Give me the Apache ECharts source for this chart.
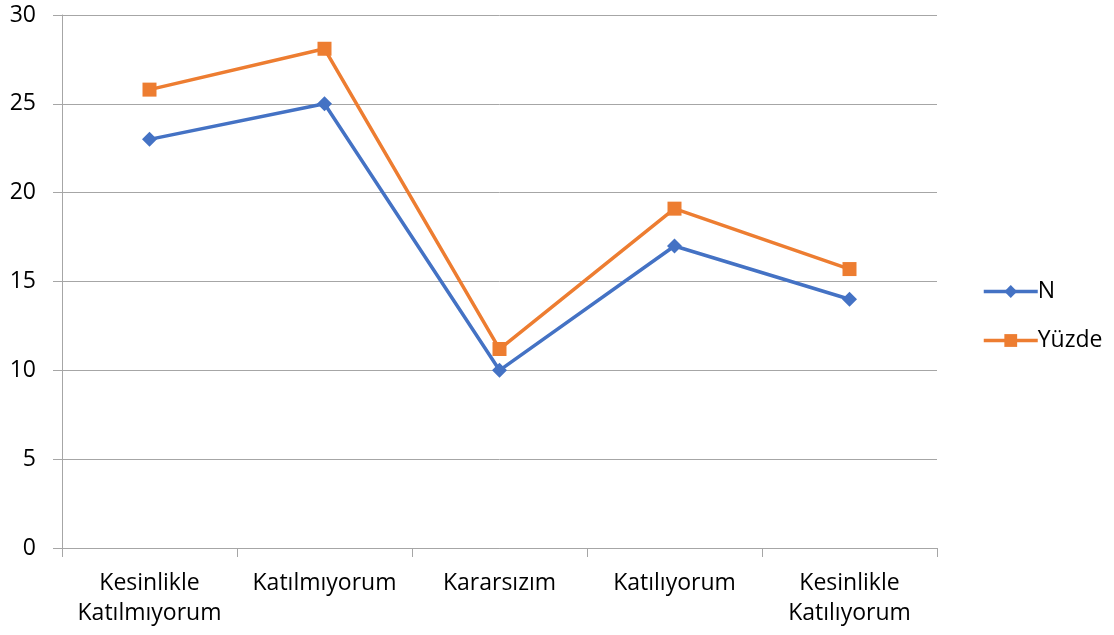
<!DOCTYPE html>
<html><head><meta charset="utf-8">
<script src="https://cdn.jsdelivr.net/npm/echarts@6/dist/echarts.min.js"></script>
<style>html,body{margin:0;padding:0;background:#fff}#c{width:1114px;height:635px}</style>
</head><body><div id="c"></div>
<script>
const categories = ['Kesinlikle\nKatılmıyorum', 'Katılmıyorum', 'Kararsızım', 'Katılıyorum', 'Kesinlikle\nKatılıyorum'];
const seriesN = [23, 25, 10, 17, 14];
const seriesYuzde = [25.8, 28.1, 11.2, 19.1, 15.7];
const yTicks = [0, 5, 10, 15, 20, 25, 30];

const font = '"Open Sans", Lato, sans-serif';
const chart = echarts.init(document.getElementById('c'));
chart.setOption({
  animation: false,
  textStyle: { fontFamily: font },
  grid: { left: 62, right: 177, top: 15, bottom: 87, containLabel: false },
  legend: {
    orient: 'vertical', left: 977, top: 275,
    itemWidth: 54, itemHeight: 16, itemGap: 26,
    lineStyle: { width: 3.5 },
    textStyle: { fontSize: 23, color: '#000', fontFamily: font, padding: [0, 0, 0, -5] },
    data: ['N', 'Yüzde']
  },
  xAxis: {
    type: 'category', data: categories, boundaryGap: true,
    axisLine: { lineStyle: { color: '#a6a6a6', width: 1 } },
    axisTick: { show: true, length: 9, alignWithLabel: false, lineStyle: { color: '#a6a6a6' } },
    axisLabel: { fontSize: 23, color: '#000', lineHeight: 30, margin: 20, fontFamily: font, interval: 0 }
  },
  yAxis: {
    type: 'value', min: yTicks[0], max: yTicks[yTicks.length - 1], interval: 5,
    axisLine: { show: true, lineStyle: { color: '#a6a6a6', width: 1 } },
    axisTick: { show: true, length: 9, lineStyle: { color: '#a6a6a6' } },
    splitLine: { lineStyle: { color: '#a6a6a6', width: 1 } },
    axisLabel: { fontSize: 23, color: '#000', margin: 26, fontFamily: font }
  },
  series: [
    {
      name: 'N', type: 'line', data: seriesN,
      symbol: 'diamond', symbolSize: 15,
      lineStyle: { color: '#4472C4', width: 3.5 },
      itemStyle: { color: '#4472C4' }
    },
    {
      name: 'Yüzde', type: 'line', data: seriesYuzde,
      symbol: 'rect', symbolSize: 14,
      lineStyle: { color: '#ED7D31', width: 3.5 },
      itemStyle: { color: '#ED7D31' }
    }
  ]
});
</script></body></html>
